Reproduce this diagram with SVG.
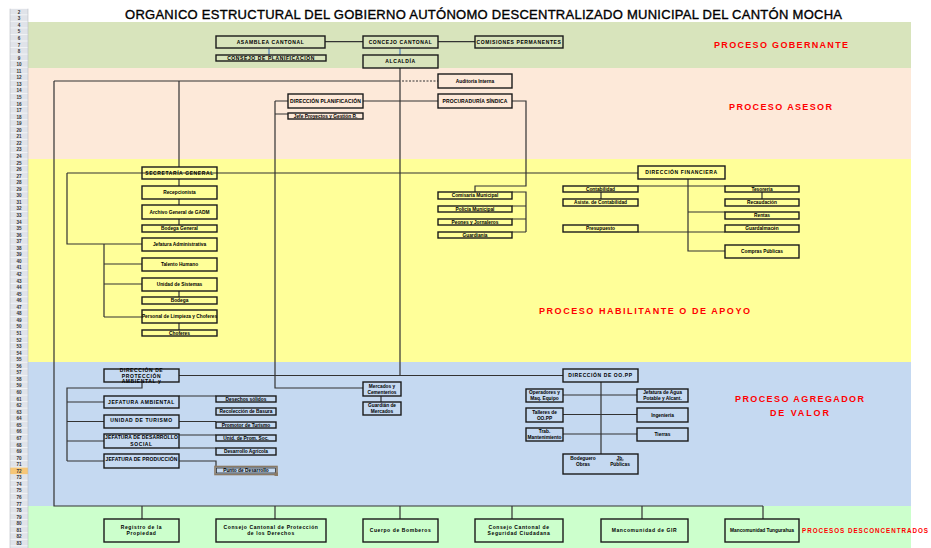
<svg xmlns="http://www.w3.org/2000/svg" width="931" height="548" viewBox="0 0 931 548">
<style>
.box{fill:none;stroke:#1a1a1a;stroke-width:1.4}
.ln{fill:none;stroke:#333;stroke-width:1.2}
.t{font-family:"Liberation Sans",Arial,sans-serif;font-weight:bold;font-size:4.8px;fill:#000;text-anchor:middle}
.tc{font-family:"Liberation Sans",Arial,sans-serif;font-weight:bold;font-size:5px;fill:#000;text-anchor:middle;letter-spacing:0.6px}
.tn{letter-spacing:0.1px}
.lbl{font-family:"Liberation Sans",Arial,sans-serif;font-weight:bold;fill:#ff0000}
.rn{font-family:"Liberation Sans",Arial,sans-serif;font-weight:bold;font-size:4.6px;fill:#333;text-anchor:middle}
</style>
<defs>
<pattern id="rows" x="10" y="8.7" width="18" height="6.556" patternUnits="userSpaceOnUse">
<rect width="18" height="6.556" fill="#e0e3e9"/>
<rect y="5.8" width="18" height="0.8" fill="#f7f8fa"/>
</pattern>
</defs>
<rect width="931" height="548" fill="#fff"/>
<!-- bands -->
<rect x="28" y="22" width="883" height="46" fill="#d8e4bc"/>
<rect x="28" y="68" width="883" height="91" fill="#fde9d9"/>
<rect x="28" y="159" width="883" height="203" fill="#ffff99"/>
<rect x="28" y="362" width="883" height="144" fill="#c5d9f1"/>
<rect x="28" y="506" width="883" height="42" fill="#ccffcc"/>
<!-- row header -->
<g id="row-header">
<rect x="10" y="8.7" width="18" height="539.3" fill="url(#rows)"/>
<rect x="10" y="467.6" width="18" height="6.556" fill="#f6c677"/>
<line x1="10" y1="8.7" x2="10" y2="548" stroke="#b8bcc4" stroke-width="0.6"/>
<line x1="28" y1="8.7" x2="28" y2="548" stroke="#b8bcc4" stroke-width="0.6"/>
<text class="rn" x="19" y="13.8">2</text><text class="rn" x="19" y="20.36">3</text><text class="rn" x="19" y="26.91">4</text><text class="rn" x="19" y="33.47">5</text><text class="rn" x="19" y="40.02">6</text><text class="rn" x="19" y="46.58">7</text><text class="rn" x="19" y="53.14">8</text><text class="rn" x="19" y="59.69">9</text><text class="rn" x="19" y="66.25">10</text><text class="rn" x="19" y="72.8">11</text><text class="rn" x="19" y="79.36">12</text><text class="rn" x="19" y="85.92">13</text><text class="rn" x="19" y="92.47">14</text><text class="rn" x="19" y="99.03">15</text><text class="rn" x="19" y="105.58">16</text><text class="rn" x="19" y="112.14">17</text><text class="rn" x="19" y="118.7">18</text><text class="rn" x="19" y="125.25">19</text><text class="rn" x="19" y="131.81">20</text><text class="rn" x="19" y="138.36">21</text><text class="rn" x="19" y="144.92">22</text><text class="rn" x="19" y="151.48">23</text><text class="rn" x="19" y="158.03">24</text><text class="rn" x="19" y="164.59">25</text><text class="rn" x="19" y="171.14">26</text><text class="rn" x="19" y="177.7">27</text><text class="rn" x="19" y="184.26">28</text><text class="rn" x="19" y="190.81">29</text><text class="rn" x="19" y="197.37">30</text><text class="rn" x="19" y="203.92">31</text><text class="rn" x="19" y="210.48">32</text><text class="rn" x="19" y="217.04">33</text><text class="rn" x="19" y="223.59">34</text><text class="rn" x="19" y="230.15">35</text><text class="rn" x="19" y="236.7">36</text><text class="rn" x="19" y="243.26">37</text><text class="rn" x="19" y="249.82">38</text><text class="rn" x="19" y="256.37">39</text><text class="rn" x="19" y="262.93">40</text><text class="rn" x="19" y="269.48">41</text><text class="rn" x="19" y="276.04">42</text><text class="rn" x="19" y="282.6">43</text><text class="rn" x="19" y="289.15">44</text><text class="rn" x="19" y="295.71">45</text><text class="rn" x="19" y="302.26">46</text><text class="rn" x="19" y="308.82">47</text><text class="rn" x="19" y="315.38">48</text><text class="rn" x="19" y="321.93">49</text><text class="rn" x="19" y="328.49">50</text><text class="rn" x="19" y="335.04">51</text><text class="rn" x="19" y="341.6">52</text><text class="rn" x="19" y="348.16">53</text><text class="rn" x="19" y="354.71">54</text><text class="rn" x="19" y="361.27">55</text><text class="rn" x="19" y="367.82">56</text><text class="rn" x="19" y="374.38">57</text><text class="rn" x="19" y="380.94">58</text><text class="rn" x="19" y="387.49">59</text><text class="rn" x="19" y="394.05">60</text><text class="rn" x="19" y="400.6">61</text><text class="rn" x="19" y="407.16">62</text><text class="rn" x="19" y="413.72">63</text><text class="rn" x="19" y="420.27">64</text><text class="rn" x="19" y="426.83">65</text><text class="rn" x="19" y="433.38">66</text><text class="rn" x="19" y="439.94">67</text><text class="rn" x="19" y="446.5">68</text><text class="rn" x="19" y="453.05">69</text><text class="rn" x="19" y="459.61">70</text><text class="rn" x="19" y="466.16">71</text><text class="rn" x="19" y="472.72">72</text><text class="rn" x="19" y="479.28">73</text><text class="rn" x="19" y="485.83">74</text><text class="rn" x="19" y="492.39">75</text><text class="rn" x="19" y="498.94">76</text><text class="rn" x="19" y="505.5">77</text><text class="rn" x="19" y="512.06">78</text><text class="rn" x="19" y="518.61">79</text><text class="rn" x="19" y="525.17">80</text><text class="rn" x="19" y="531.72">81</text><text class="rn" x="19" y="538.28">82</text><text class="rn" x="19" y="544.84">83</text>
</g>
<!-- title and band labels -->
<text x="125" y="19.3" font-family="Liberation Sans, Arial, sans-serif" font-size="13" fill="#000" stroke="#000" stroke-width="0.35" textLength="717" lengthAdjust="spacing">ORGANICO ESTRUCTURAL DEL GOBIERNO AUTÓNOMO DESCENTRALIZADO MUNICIPAL DEL CANTÓN MOCHA</text>
<text class="lbl" x="714" y="48.3" font-size="9" textLength="134" lengthAdjust="spacing">PROCESO GOBERNANTE</text>
<text class="lbl" x="729" y="110.3" font-size="9" textLength="103" lengthAdjust="spacing">PROCESO ASESOR</text>
<text class="lbl" x="539" y="314.3" font-size="9" textLength="211" lengthAdjust="spacing">PROCESO HABILITANTE O DE APOYO</text>
<text class="lbl" x="735" y="402.3" font-size="9" textLength="129" lengthAdjust="spacing">PROCESO AGREGADOR</text>
<text class="lbl" x="770" y="415.6" font-size="9" textLength="59" lengthAdjust="spacing">DE VALOR</text>
<text class="lbl" x="802" y="533.2" font-size="6.3" textLength="126" lengthAdjust="spacing">PROCESOS DESCONCENTRADOS</text>
<!-- connectors -->
<g id="connectors">
<path d="M269,48.5V55M400,48.5V55" fill="none" stroke="#4f81bd" stroke-width="1.2"/>
<path class="ln" d="M325,41.7H363M438,41.7H475"/>
<path class="ln" d="M400,68V376M54,81H400"/>
<path class="ln" d="M402,81H438" stroke-dasharray="2,1.5"/>
<path class="ln" d="M54,81V506H763M142,506V519M275,506V519M400,506V519M512,506V519M642,506V519M763,506V519"/>
<path class="ln" d="M179,81V167"/>
<path class="ln" d="M275,101V388H363M275,101H288M275,114H288M363,101H438"/>
<path class="ln" d="M512,101H526V186H475V192M512,192H526V232M512,206H526M512,219H526M512,232H526"/>
<path class="ln" d="M67,173H638M67,173V244H142"/>
<path class="ln" d="M179,179V186M179,199V205M179,219V225M179,291V297M179,323V330"/>
<path class="ln" d="M104,244V317M104,264H142M104,284H142M104,317H142"/>
<path class="ln" d="M601,192V199M638,186H725M688,179V251H725M688,212H725M638,232H725M762,192V199"/>
<path class="ln" d="M179,375.5H563"/>
<path class="ln" d="M142,382V388H67V461M67,402H104M67,421.5H104M67,441H104M67,461H104"/>
<path class="ln" d="M179,396H216M179,421.5H216M179,435H216M179,448H216M179,461H216V467"/>
<path class="ln" d="M381,396V402"/>
<path class="ln" d="M601,382V454M563,395H637M563,414.5H637M563,434H637"/>
</g>
<!-- gobernante -->
<g id="n-asamblea"><rect class="box" x="216" y="36" width="109" height="12"/><text class="tc" x="270.5" y="43.8">ASAMBLEA CANTONAL</text></g>
<g id="n-consejo-planificacion"><rect class="box" x="216" y="55" width="110" height="6"/><text class="tc" x="271" y="59.8">CONSEJO DE PLANIFICACIÓN</text></g>
<g id="n-concejo"><rect class="box" x="363" y="36" width="75" height="12"/><text class="tc" x="400.5" y="43.8">CONCEJO CANTONAL</text></g>
<g id="n-comisiones"><rect class="box" x="475" y="36" width="88" height="12"/><text class="tc" x="519" y="43.8">COMISIONES PERMANENTES</text></g>
<g id="n-alcaldia"><rect class="box" x="363" y="55" width="75" height="13"/><text class="tc" x="400.5" y="63.3">ALCALDÍA</text></g>
<!-- asesor -->
<g id="n-auditoria"><rect class="box" x="438" y="74" width="74" height="14"/><text class="t" x="475" y="82.8">Auditoría Interna</text></g>
<g id="n-dir-planificacion"><rect class="box" x="288" y="94" width="75" height="14"/><text class="tc tn" x="325.5" y="102.8">DIRECCIÓN PLANIFICACIÓN</text></g>
<g id="n-jefe-proyectos"><rect class="box" x="288" y="113" width="75" height="6"/><text class="t" x="325.5" y="117.8" font-size="4.4">Jefe Proyectos y Gestión R.</text></g>
<g id="n-procuraduria"><rect class="box" x="438" y="94" width="74" height="14"/><text class="tc tn" x="475" y="102.8">PROCURADURÍA SÍNDICA</text></g>
<!-- habilitante -->
<g id="n-secretaria"><rect class="box" x="142" y="167" width="75" height="12"/><text class="tc" x="179.5" y="174.8">SECRETARÍA GENERAL</text></g>
<g id="n-recepcion"><rect class="box" x="142" y="186" width="75" height="13"/><text class="t" x="179.5" y="194.3">Recepcionista</text></g>
<g id="n-archivo"><rect class="box" x="142" y="205" width="75" height="14"/><text class="t" x="179.5" y="213.8">Archivo General de GADM</text></g>
<g id="n-bodega-general"><rect class="box" x="142" y="225" width="75" height="7"/><text class="t" x="179.5" y="230.3">Bodega General</text></g>
<g id="n-jef-administrativa"><rect class="box" x="142" y="238" width="75" height="13"/><text class="t" x="179.5" y="246.3">Jefatura Administrativa</text></g>
<g id="n-talento"><rect class="box" x="142" y="258" width="75" height="13"/><text class="t" x="179.5" y="266.3">Talento Humano</text></g>
<g id="n-sistemas"><rect class="box" x="142" y="278" width="75" height="13"/><text class="t" x="179.5" y="286.3">Unidad de Sistemas</text></g>
<g id="n-bodega"><rect class="box" x="142" y="297" width="75" height="7"/><text class="t" x="179.5" y="302.3">Bodega</text></g>
<g id="n-personal"><rect class="box" x="142" y="310" width="75" height="13"/><text class="t" x="179.5" y="318.3" font-size="4.5">Personal de Limpieza y Choferes</text></g>
<g id="n-choferes"><rect class="box" x="142" y="330" width="75" height="6"/><text class="t" x="179.5" y="334.8">Choferes</text></g>
<g id="n-comisaria"><rect class="box" x="438" y="192" width="74" height="7"/><text class="t" x="475" y="197.3">Comisaría Municipal</text></g>
<g id="n-policia"><rect class="box" x="438" y="206" width="74" height="6"/><text class="t" x="475" y="210.8">Policía Municipal</text></g>
<g id="n-peones"><rect class="box" x="438" y="219" width="74" height="6"/><text class="t" x="475" y="223.8">Peones y Jornaleros</text></g>
<g id="n-guardiania"><rect class="box" x="438" y="232" width="74" height="6"/><text class="t" x="475" y="236.8">Guardianía</text></g>
<g id="n-dir-financiera"><rect class="box" x="638" y="166" width="87" height="13"/><text class="tc" x="681.5" y="174.3">DIRECCIÓN FINANCIERA</text></g>
<g id="n-contabilidad"><rect class="box" x="563" y="186" width="75" height="6"/><text class="t" x="600.5" y="190.8">Contabilidad</text></g>
<g id="n-asist-contabilidad"><rect class="box" x="563" y="199" width="75" height="7"/><text class="t" x="600.5" y="204.3">Asiste. de Contabilidad</text></g>
<g id="n-presupuesto"><rect class="box" x="563" y="225" width="75" height="7"/><text class="t" x="600.5" y="230.3">Presupuesto</text></g>
<g id="n-tesoreria"><rect class="box" x="725" y="186" width="74" height="6"/><text class="t" x="762" y="190.8">Tesorería</text></g>
<g id="n-recaudacion"><rect class="box" x="725" y="199" width="74" height="7"/><text class="t" x="762" y="204.3">Recaudación</text></g>
<g id="n-rentas"><rect class="box" x="725" y="212" width="74" height="7"/><text class="t" x="762" y="217.3">Rentas</text></g>
<g id="n-guardalmacen"><rect class="box" x="725" y="225" width="74" height="7"/><text class="t" x="762" y="230.3">Guardalmacén</text></g>
<g id="n-compras"><rect class="box" x="725" y="245" width="74" height="13"/><text class="t" x="762" y="253.3">Compras Públicas</text></g>
<!-- agregador -->
<g id="n-dir-proteccion"><rect class="box" x="104" y="369" width="75" height="13"/><text class="tc" x="141.5" y="371.8">DIRECCIÓN DE</text><text class="tc" x="141.5" y="377.5">PROTECCIÓN</text><text class="tc" x="141.5" y="383">AMBIENTAL y</text></g>
<g id="n-jef-ambiental"><rect class="box" x="104" y="396" width="75" height="12"/><text class="tc" x="141.5" y="403.8">JEFATURA AMBIENTAL</text></g>
<g id="n-turismo"><rect class="box" x="104" y="415" width="75" height="13"/><text class="tc" x="141.5" y="422.3">UNIDAD DE TURISMO</text></g>
<g id="n-desarrollo-social"><rect class="box" x="104" y="434" width="75" height="14"/><text class="tc tn" x="141.5" y="439.3">JEFATURA DE DESARROLLO</text><text class="tc" x="141.5" y="446">SOCIAL</text></g>
<g id="n-produccion"><rect class="box" x="104" y="454" width="75" height="14"/><text class="tc tn" x="141.5" y="461">JEFATURA DE PRODUCCIÓN</text></g>
<g id="n-desechos"><rect class="box" x="216" y="396" width="60" height="6"/><text class="t" x="246" y="400.8">Desechos sólidos</text></g>
<g id="n-recoleccion"><rect class="box" x="216" y="408" width="60" height="7"/><text class="t" x="246" y="413.3">Recolección de Basura</text></g>
<g id="n-promotor"><rect class="box" x="216" y="422" width="60" height="6"/><text class="t" x="246" y="426.8">Promotor de Turismo</text></g>
<g id="n-prom-social"><rect class="box" x="216" y="435" width="60" height="6"/><text class="t" x="246" y="439.8">Unid. de Prom. Soc.</text></g>
<g id="n-agricola"><rect class="box" x="216" y="448" width="60" height="7"/><text class="t" x="246" y="453.3">Desarrollo Agrícola</text></g>
<g id="n-punto"><rect x="215" y="466.5" width="62" height="8" fill="none" stroke="#8a7a66" stroke-width="1.6"/><rect x="216.5" y="468" width="59" height="5" fill="none" stroke="#2a2a2a" stroke-width="0.8"/><rect x="274.5" y="472.5" width="3.5" height="3.5" fill="#8a7a66"/><text class="t" x="246" y="472.3">Punto de Desarrollo</text></g>
<g id="n-mercados"><rect class="box" x="363" y="382" width="38" height="14"/><text class="t" x="382" y="387.6">Mercados y</text><text class="t" x="382" y="394">Cementerios</text></g>
<g id="n-guardian-mercados"><rect class="box" x="363" y="402" width="38" height="13"/><text class="t" x="382" y="406.8" font-size="4.2">Guardián de</text><text class="t" x="382" y="412.5" font-size="4.2">Mercados</text></g>
<g id="n-dir-oopp"><rect class="box" x="563" y="369" width="75" height="13"/><text class="tc" x="600.5" y="377.3">DIRECCIÓN DE OO.PP</text></g>
<g id="n-operadores"><rect class="box" x="526" y="389" width="37" height="13"/><text class="t" x="544.5" y="394" font-size="4.2">Operadores y</text><text class="t" x="544.5" y="400.2" font-size="4.2">Maq. Equipo</text></g>
<g id="n-talleres"><rect class="box" x="526" y="408" width="37" height="14"/><text class="t" x="544.5" y="413.5" font-size="4.2">Talleres de</text><text class="t" x="544.5" y="420">OO.PP</text></g>
<g id="n-mantenimiento"><rect class="box" x="526" y="428" width="37" height="13"/><text class="t" x="544.5" y="433" font-size="4.2">Trab.</text><text class="t" x="544.5" y="439.4" font-size="4.2">Mantenimiento</text></g>
<g id="n-agua"><rect class="box" x="637" y="389" width="51" height="13"/><text class="t" x="662.5" y="394" font-size="4.2">Jefatura de Agua</text><text class="t" x="662.5" y="400.2" font-size="4.2">Potable y Alcant.</text></g>
<g id="n-ingenieria"><rect class="box" x="637" y="408" width="51" height="14"/><text class="t" x="662.5" y="416.7">Ingeniería</text></g>
<g id="n-tierras"><rect class="box" x="637" y="428" width="51" height="13"/><text class="t" x="662.5" y="436.3">Tierras</text></g>
<g id="n-obras"><rect class="box" x="563" y="454" width="75" height="20"/><text class="t" x="583" y="459.6">Bodeguero</text><text class="t" x="583" y="466">Obras</text><text class="t" x="620" y="459.6" text-decoration="underline">Jb.</text><text class="t" x="620" y="466">Públicas</text></g>
<!-- desconcentrados -->
<g id="n-registro"><rect class="box" x="104" y="519" width="75" height="23"/><text class="tc" x="141.5" y="528.5">Registro de la</text><text class="tc" x="141.5" y="535">Propiedad</text></g>
<g id="n-consejo-proteccion"><rect class="box" x="216" y="519" width="110" height="23"/><text class="tc" x="271" y="528.5">Consejo Cantonal de Protección</text><text class="tc" x="271" y="535">de los Derechos</text></g>
<g id="n-bomberos"><rect class="box" x="363" y="519" width="75" height="23"/><text class="tc" x="400.5" y="532">Cuerpo de Bomberos</text></g>
<g id="n-seguridad"><rect class="box" x="475" y="519" width="88" height="23"/><text class="tc" x="519" y="528.5">Consejo Cantonal de</text><text class="tc" x="519" y="535">Seguridad Ciudadana</text></g>
<g id="n-mancomunidad-gir"><rect class="box" x="601" y="519" width="87" height="23"/><text class="tc" x="644.5" y="532">Mancomunidad de GIR</text></g>
<g id="n-mancomunidad-tung"><rect class="box" x="725" y="519" width="74" height="23"/><text class="t" x="762" y="532">Mancomunidad Tungurahua</text></g>
</svg>
